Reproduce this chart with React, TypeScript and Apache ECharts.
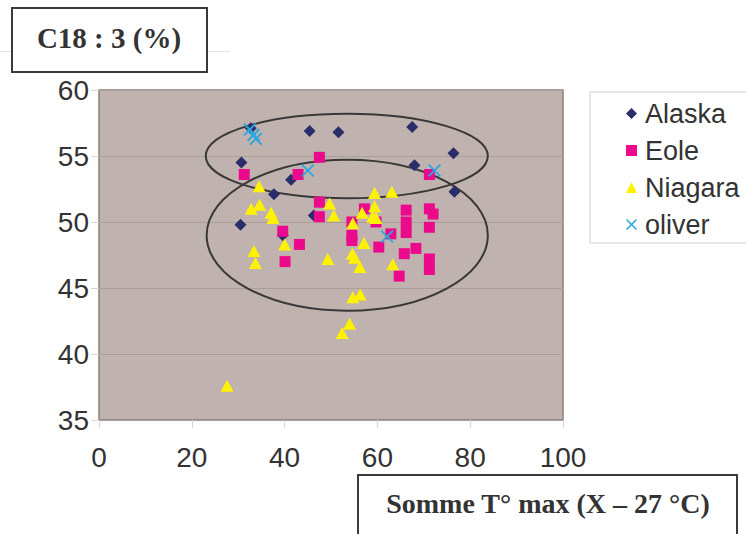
import { useEffect, useRef } from "react";
import * as echarts from "echarts";

const xTicks = [0, 20, 40, 60, 80, 100];
const yTicks = [35, 40, 45, 50, 55, 60];
const seriesNames = ["Alaska", "Eole", "Niagara", "oliver"];

const alaska = [
  [30.7, 54.5], [32.7, 57.1], [45.4, 56.9], [51.6, 56.8], [67.5, 57.2],
  [76.4, 55.2], [68.0, 54.3], [76.6, 52.3], [41.4, 53.2], [37.7, 52.1],
  [30.5, 49.8], [46.3, 50.5], [39.6, 49.0],
];
const eole = [
  [31.3, 53.6], [42.9, 53.6], [47.5, 54.9], [47.5, 51.5], [47.5, 50.4],
  [39.6, 49.3], [43.2, 48.3], [40.1, 47.0], [71.2, 53.6], [57.2, 51.0],
  [54.5, 50.0], [54.5, 49.0], [54.5, 48.6], [59.7, 50.0], [60.3, 48.1],
  [62.9, 49.1], [66.2, 50.9], [66.2, 50.0], [66.2, 49.2], [65.8, 47.6],
  [64.7, 45.9], [68.3, 48.0], [71.2, 51.0], [72.0, 50.6], [71.2, 49.6],
  [71.2, 47.2], [71.2, 46.4],
];
const niagara = [
  [27.6, 37.6], [34.5, 52.7], [32.8, 51.0], [34.6, 51.3], [37.1, 50.7],
  [37.5, 50.3], [33.4, 47.8], [33.7, 46.9], [40.0, 48.3], [49.7, 51.4],
  [50.6, 50.5], [49.3, 47.2], [54.7, 49.9], [56.7, 50.7], [59.4, 52.2],
  [63.1, 52.3], [59.4, 51.2], [59.0, 50.4], [59.7, 50.3], [57.1, 48.4],
  [54.6, 47.6], [55.1, 47.3], [56.2, 46.6], [63.3, 46.8], [54.7, 44.3],
  [56.3, 44.5], [54.0, 42.3], [52.4, 41.6],
];
const oliver = [
  [32.5, 57.0], [33.3, 56.6], [33.8, 56.3], [45.0, 53.9], [72.3, 53.9], [62.1, 48.9],
];
// ellipse annotations: [centerX, centerY, radiusX, radiusY] in data units
const ellipses = [
  [53.4, 55.0, 30.4, 3.2],
  [53.5, 49.0, 30.3, 5.72],
];
const yAxisTitle = "C18 : 3 (%)";
const xAxisTitle = "Somme T° max (X – 27 °C)";

const colors = ["#2B2D6B", "#EC0A8C", "#FFF200", "#2AA7DF"];
const symbols = [
  "diamond",
  "rect",
  "triangle",
  "path://M1,0L5,4L9,0L10,1L6,5L10,9L9,10L5,6L1,10L0,9L4,5L0,1Z",
];
const symbolSizes: any[] = [12, 11, [13, 12], 13];
const seriesData = [alaska, eole, niagara, oliver];

export default function App() {
  const ref = useRef<HTMLDivElement>(null);
  useEffect(() => {
    const chart = echarts.init(ref.current!, null, { renderer: "svg" });
    const sans = "Liberation Sans, Arial, sans-serif";
    const serif = "Liberation Serif, Times New Roman, serif";
    const option: any = {
      animation: false,
      backgroundColor: "#ffffff",
      grid: {
        left: 99,
        top: 90,
        width: 464,
        height: 330,
        show: true,
        backgroundColor: "#C0B3AF",
        borderColor: "#8c807d",
        borderWidth: 1.5,
      },
      xAxis: {
        type: "value",
        min: xTicks[0],
        max: xTicks[xTicks.length - 1],
        interval: 20,
        axisLine: { show: false },
        axisTick: { show: true, length: 8, lineStyle: { color: "#d6d6d6" } },
        splitLine: { show: false },
        axisLabel: { margin: 23, fontSize: 28, fontFamily: sans, color: "#333" },
      },
      yAxis: {
        type: "value",
        min: yTicks[0],
        max: yTicks[yTicks.length - 1],
        interval: 5,
        axisLine: { show: false },
        axisTick: { show: true, length: 8, lineStyle: { color: "#d6d6d6" } },
        splitLine: { show: true, lineStyle: { color: "#ab9e9a", width: 1 } },
        axisLabel: { margin: 10, fontSize: 28, fontFamily: sans, color: "#333" },
      },
      legend: {
        data: seriesNames,
        orient: "vertical",
        left: 590,
        top: 92,
        padding: [8, 14, 5, 36],
        itemGap: 10,
        itemWidth: 11,
        itemHeight: 11,
        backgroundColor: "#ffffff",
        borderColor: "#cfcfcf",
        borderWidth: 1,
        textStyle: { fontFamily: sans, fontSize: 27, color: "#333", padding: [0, 0, 0, 3] },
      },
      graphic: [
        { type: "line", shape: { x1: 0, y1: 51.5, x2: 230, y2: 51.5 }, style: { stroke: "#e4e4e4", lineWidth: 1 }, z: 1 },
        { type: "rect", shape: { x: 12, y: 8, width: 195, height: 64 }, style: { fill: "#fff", stroke: "#3a3a3a", lineWidth: 2 }, z: 2 },
        { type: "text", x: 109, y: 38, style: { text: yAxisTitle, font: `bold 29px ${serif}`, fill: "#333", align: "center", verticalAlign: "middle" }, z: 3 },
        { type: "rect", shape: { x: 358, y: 475, width: 379, height: 80 }, style: { fill: "#fff", stroke: "#3a3a3a", lineWidth: 2 }, z: 2 },
        { type: "text", x: 548, y: 503, style: { text: xAxisTitle, font: `bold 28px ${serif}`, fill: "#333", align: "center", verticalAlign: "middle" }, z: 3 },
      ],
      series: [
        {
          type: "custom",
          name: "ellipses",
          data: ellipses,
          z: 1,
          silent: true,
          renderItem: (params: any, api: any) => {
            const c = api.coord([api.value(0), api.value(1)]);
            const s = api.size([api.value(2), api.value(3)], [api.value(0), api.value(1)]);
            return {
              type: "ellipse",
              shape: { cx: c[0], cy: c[1], rx: s[0], ry: s[1] },
              style: { fill: "none", stroke: "#383838", lineWidth: 2 },
            };
          },
        },
        ...seriesNames.map((name, i) => ({
          name,
          type: "scatter",
          data: seriesData[i],
          symbol: symbols[i],
          symbolSize: symbolSizes[i],
          itemStyle: { color: colors[i], opacity: 1 },
          z: 3 + i,
        })),
      ],
    };
    chart.setOption(option);
    return () => chart.dispose();
  }, []);
  return (
    <div
      ref={ref}
      style={{ position: "fixed", left: 0, top: 0, width: 746, height: 534, background: "#fff" }}
    />
  );
}
